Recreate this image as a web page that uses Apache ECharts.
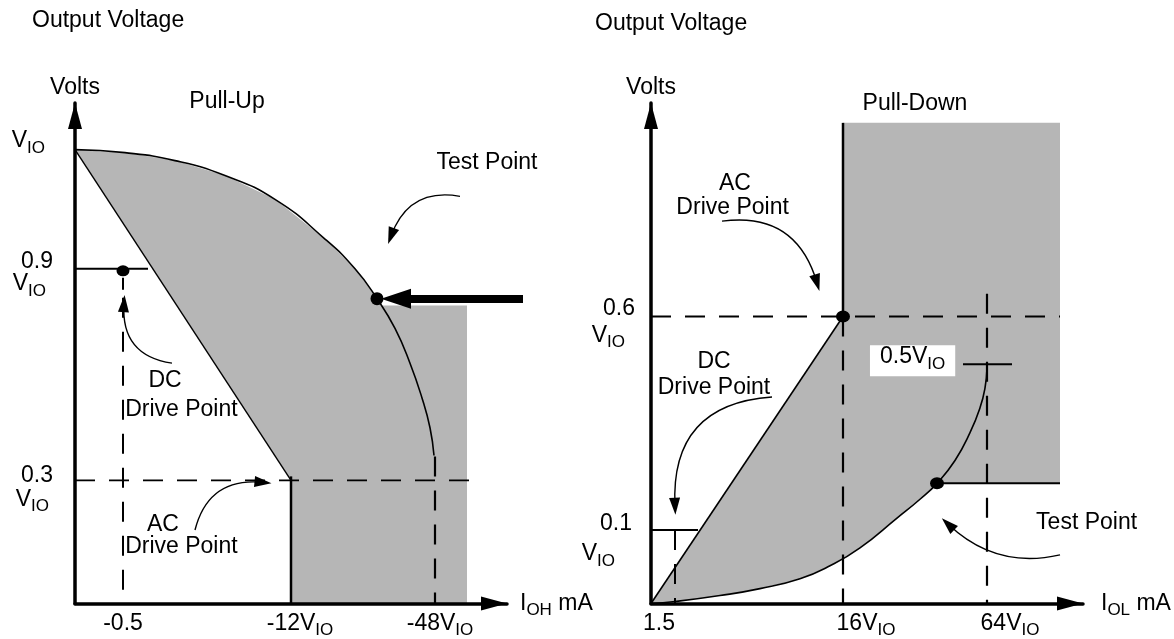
<!DOCTYPE html>
<html>
<head>
<meta charset="utf-8">
<title>Output Voltage - Pull-Up / Pull-Down</title>
<script src="https://cdn.jsdelivr.net/npm/echarts@6.0.0/dist/echarts.min.js"></script>
<style>
  html, body { margin: 0; padding: 0; background: #fff; }
  #chart { width: 1174px; height: 639px; }
</style>
</head>
<body>
<div id="chart"></div>
<script>
// both panels are schematic (not to scale): current axis 0..108, volts axis 0..126
const FONT = 'Liberation Sans'
const INK = '#000'
const SHADE = '#b6b6b6'

// ---- Pull-Up (left panel) ----
const upCurve = [[0,114.25],[12.5,113.5],[25,111.5],[37.5,107.75],[50,101.75],[62.5,91.75],[70,84.25],[75.5,76.75],
  [80,69.25],[83.75,60.5],[86.75,51.75],[88.75,44.25],[89.75,37.25]]
const upDiag = [[0,114.25],[54,31]]
const upStep = [[54,32],[54,0]]
const upLevel09 = [[0,84.25],[18.25,84.25]]
const upDcTick = [[12,82],[12,79]]
const upDashH = [[0,31],[102,31]]
const upDashDC = [[12,77],[12,0]]
const upDash48 = [[90,37],[90,0]]
const upShade = [[0,114.25],[12.5,113.5],[25,111.5],[37.5,107.75],[50,101.75],[62.5,91.75],[70,84.25],[75.5,76.75],
  [76.5,75],[98,75],[98,0],[54,0],[54,31]]
const upDots = [[12,83.75],[75.5,76.75]]
const upBigArrow = [[[112,76.75],[80.25,76.75],0]]
const upArrows = [
  [[96.25,102.5],[79,92.5],-0.42],
  [[24.25,60.5],[12.25,75.5],0.46],
  [[30,18.5],[47,30.5],0.43]
]
const upYTicks = [114.25, 84.25, 31]
const upYLabels = ['{a|V}{b|IO}', '{c|0.9}\n{d|V}{e|IO}', '{f|0.3}\n{f|V}{g|IO}']
const upXTicks = [12, 54, 90]
const upXLabels = ['{p|-0.5}', '{q|-12V}{s|IO}', '{r|-48V}{s|IO}']
const upNotes = [
  [38, 126.25, 'Pull-Up'],
  [103, 111, 'Test Point'],
  [22.5, 56, 'DC'],
  [26.6, 48.75, 'Drive Point'],
  [22, 19.75, 'AC'],
  [26.6, 14.25, 'Drive Point']
]

// ---- Pull-Down (right panel) ----
const dnCurve = [[0,0],[6,0.5],[17.25,2],[27.25,3.75],[37.25,6.25],[44.75,9.5],[52.25,14],[61.5,21.5],[67.25,26.25],
  [71.5,30.25],[76,36],[79.75,43],[82.25,49.25],[83.5,54.25],[84,59.25]]
const dnDiag = [[0,0],[48,72.25]]
const dnWall = [[48,72.25],[48,121]]
const dnFloor = [[71.5,30.25],[102.25,30.25]]
const dnLevel01 = [[0,18.5],[11.75,18.5]]
const dnTick05 = [[78,60.25],[90.25,60.25]]
const dnDashH = [[0,72.25],[102.25,72.25]]
const dnDash16 = [[48,72.25],[48,0]]
const dnDash64 = [[84,78],[84,0]]
const dnDash15 = [[6,18.5],[6,0]]
const dnShade = [[0,0],[48,72.25],[48,121],[102.25,121],[102.25,30.25],[71.5,30.25],[67.25,26.25],[61.5,21.5],
  [52.25,14],[44.75,9.5],[37.25,6.25],[27.25,3.75],[17.25,2],[6,0.5]]
const dnDots = [[48,72.25],[71.5,30.25]]
const dnArrows = [
  [[17.75,96.25],[41.5,80.75],0.43],
  [[30.25,52],[6,24.5],-0.49],
  [[102.25,12.25],[74.25,20],0.27]
]
const dnYTicks = [72.25, 18.5]
const dnYLabels = ['{c|0.6}\n{d|V}{e|IO}', '{f|0.1}\n{g|V}{h|IO}']
const dnXTicks = [6, 48, 84]
const dnXLabels = ['{t|1.5}', '{u|16V}{s|IO}', '{u|64V}{s|IO}']
const dnNotes = [
  [66, 125.75, 'Pull-Down'],
  [21, 105.6, 'AC'],
  [20.4, 99.75, 'Drive Point'],
  [15.75, 61, 'DC'],
  [15.75, 54.25, 'Drive Point'],
  [108.9, 20.25, 'Test Point'],
  [65.4, 61.1, '{m|0.5V}{k|IO}']
]

// text style for a rich token; padding top/bottom nudges the token up or down
function ts(size, pad) {
  return {fontFamily: FONT, fontSize: size, color: INK, lineHeight: 24, padding: pad || [0,0,0,0]}
}
const nameRich = {n: ts(23), s: ts(17,[14,0,0,0])}
const noteRich = {n: ts(23), m: ts(23,[0,0,10,0]), k: ts(17,[6,0,0,0])}
const upYRich = {a: ts(23,[0,0,18,0]), b: ts(17,[0,8,2,0]), c: ts(23,[10,0,0,0]), d: ts(23,[6,0,0,0]),
  e: ts(17,[20,7,0,0]), f: ts(23,[14,0,0,0]), g: ts(17,[28,4,0,0])}
const upXRich = {p: ts(23), q: ts(23,[0,0,0,18]), r: ts(23,[0,0,0,10]), s: ts(17,[14,0,0,0])}
const dnYRich = {c: ts(23,[8,0,0,0]), d: ts(23,[14,0,0,0]), e: ts(17,[28,10,0,0]),
  f: ts(23,[12,3,0,0]), g: ts(23,[24,0,0,0]), h: ts(17,[38,20,0,0])}
const dnXRich = {t: ts(23,[0,32,0,0]), u: ts(23,[0,0,0,46]), s: ts(17,[14,0,0,0])}

function nearest(list, v) {
  let best = 0
  list.forEach((t, i) => { if (Math.abs(t - v) < Math.abs(list[best] - v)) best = i })
  return best
}

const axisLine = {
  show: true, onZero: false,
  lineStyle: {color: INK, width: 3.5},
  symbol: ['none', 'triangle'], symbolSize: [14, 26], symbolOffset: [0, -13]
}

function xAxis(gi, ticks, labels, rich, name, gap) {
  return {
    type: 'value', gridIndex: gi, min: 0, max: 108, z: 6,
    name: name, nameLocation: 'end', nameGap: gap,
    nameTextStyle: {fontFamily: FONT, fontSize: 23, color: INK, rich: nameRich},
    axisLine: axisLine, axisTick: {show: false}, splitLine: {show: false},
    axisLabel: {customValues: ticks, formatter: v => labels[nearest(ticks, v)], rich: rich,
      margin: 8, fontFamily: FONT, fontSize: 23, color: INK}
  }
}
function yAxis(gi, ticks, labels, rich, margin) {
  return {
    type: 'value', gridIndex: gi, min: 0, max: 126, z: 6,
    name: 'Volts', nameLocation: 'end', nameGap: 4,
    nameTextStyle: {fontFamily: FONT, fontSize: 23, color: INK},
    axisLine: axisLine, axisTick: {show: false}, splitLine: {show: false},
    axisLabel: {customValues: ticks, formatter: v => labels[nearest(ticks, v)], rich: rich,
      margin: margin, fontFamily: FONT, fontSize: 23, color: INK}
  }
}

function seg(xi, pts, width, dash, smooth) {
  return {
    type: 'line', xAxisIndex: xi, yAxisIndex: xi, data: pts, symbol: 'none',
    smooth: smooth || false, silent: true, animation: false, z: 3, clip: false,
    lineStyle: {color: INK, width: width, type: dash ? [20, 14] : 'solid', cap: 'butt'}
  }
}
function shade(xi, pts) {
  return {
    type: 'custom', xAxisIndex: xi, yAxisIndex: xi, z: 1, silent: true, animation: false,
    data: [pts[0]],
    renderItem: (params, api) => ({
      type: 'polygon',
      shape: {points: pts.map(p => api.coord(p))},
      style: {fill: SHADE}
    })
  }
}
function arrows(xi, list, width, size) {
  return {
    type: 'lines', coordinateSystem: 'cartesian2d', xAxisIndex: xi, yAxisIndex: xi,
    z: 4, silent: true, animation: false, clip: false,
    symbol: ['none', 'triangle'], symbolSize: [0, size],
    lineStyle: {color: INK, width: width, opacity: 1},
    data: list.map(a => ({coords: [a[0], a[1]], lineStyle: {curveness: a[2]}}))
  }
}
function dots(xi, pts, size) {
  return {
    type: 'scatter', xAxisIndex: xi, yAxisIndex: xi, data: pts, symbol: 'circle',
    symbolSize: size, itemStyle: {color: INK, opacity: 1}, z: 5, silent: true, animation: false
  }
}
function notes(xi, list) {
  return {
    type: 'scatter', xAxisIndex: xi, yAxisIndex: xi, z: 7, silent: true, animation: false, clip: false,
    symbolSize: 1, itemStyle: {color: 'rgba(0,0,0,0)', opacity: 1},
    data: list.map(n => {
      const item = {value: [n[0], n[1]]}
      if (n[2].indexOf('{m|') === 0) item.label = {backgroundColor: '#fff', padding: [4, 10, 3, 10]}
      return item
    }),
    label: {show: true, position: 'inside', fontFamily: FONT, fontSize: 23, color: INK, opacity: 1,
      formatter: p => list[p.dataIndex][2], rich: noteRich}
  }
}

const chart = echarts.init(document.getElementById('chart'))
chart.setOption({
  animation: false,
  backgroundColor: '#fff',
  textStyle: {fontFamily: FONT},
  title: [
    {text: 'Output Voltage', left: 32, top: 9, padding: 0,
      textStyle: {fontFamily: FONT, fontSize: 23, fontWeight: 'normal', color: INK}},
    {text: 'Output Voltage', left: 595, top: 12, padding: 0,
      textStyle: {fontFamily: FONT, fontSize: 23, fontWeight: 'normal', color: INK}}
  ],
  grid: [
    {left: 75, top: 103, width: 432, height: 504},
    {left: 651, top: 103, width: 432, height: 504}
  ],
  xAxis: [
    xAxis(0, upXTicks, upXLabels, upXRich, '{n|I}{s|OH}{n| mA}', 13),
    xAxis(1, dnXTicks, dnXLabels, dnXRich, '{n|I}{s|OL}{n| mA}', 18)
  ],
  yAxis: [
    yAxis(0, upYTicks, upYLabels, upYRich, 22),
    yAxis(1, dnYTicks, dnYLabels, dnYRich, 16)
  ],
  series: [
    shade(0, upShade),
    seg(0, upCurve, 1.6, false, 0.5),
    seg(0, upDiag, 1.4),
    seg(0, upStep, 2.5),
    seg(0, upLevel09, 2),
    seg(0, upDcTick, 2),
    seg(0, upDashH, 1.8, true),
    seg(0, upDashDC, 2, true),
    seg(0, upDash48, 2.2, true),
    arrows(0, upBigArrow, 8, [20, 30]),
    arrows(0, upArrows, 1.4, [11, 17]),
    dots(0, [upDots[0]], [13, 11]),
    dots(0, [upDots[1]], 13),
    notes(0, upNotes),

    shade(1, dnShade),
    seg(1, dnCurve, 1.6, false, 0.5),
    seg(1, dnDiag, 1.6),
    seg(1, dnWall, 2.5),
    seg(1, dnFloor, 2),
    seg(1, dnLevel01, 1.8),
    seg(1, dnTick05, 2),
    seg(1, dnDashH, 2, true),
    seg(1, dnDash16, 2.2, true),
    seg(1, dnDash64, 2.2, true),
    seg(1, dnDash15, 2, true),
    arrows(1, dnArrows, 1.4, [11, 17]),
    dots(1, dnDots, [14, 12]),
    notes(1, dnNotes)
  ]
})
</script>
</body>
</html>
